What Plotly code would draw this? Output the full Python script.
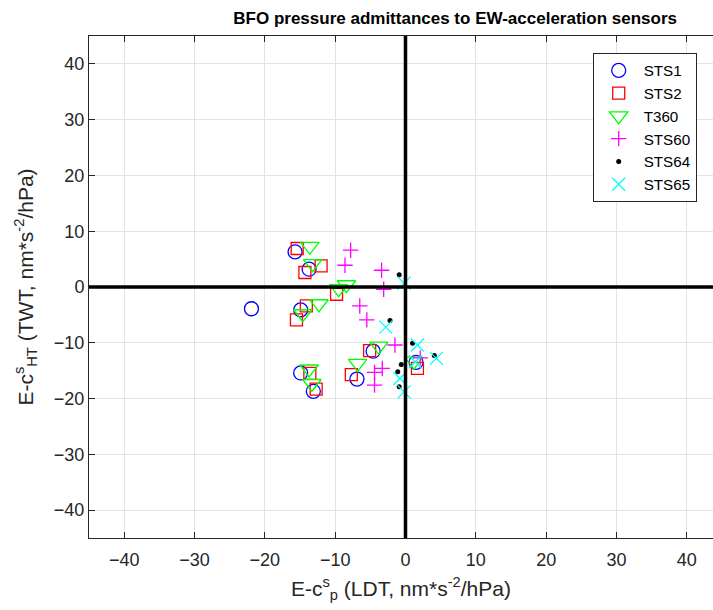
import plotly.graph_objects as go

# ---- data ----
sts1_x = [-15.7, -13.7, -21.9, -14.9, -4.6, 1.5, -14.9, -6.9, -13.1]
sts1_y = [6.3, 3.2, -3.9, -4.1, -11.5, -13.5, -15.4, -16.5, -18.7]

sts2_x = [-15.4, -12.0, -14.3, -9.8, -14.1, -15.5, -5.1, 1.7, -13.6, -7.7, -12.7]
sts2_y = [6.9, 3.8, 2.6, -1.3, -3.4, -5.9, -11.4, -14.6, -15.5, -15.7, -18.3]

t360_x = [-13.6, -13.2, -12.3, -14.6, -9.5, -8.4, -3.8, -6.8, 1.2, -13.7, -13.3]
t360_y = [7.3, 4.2, -3.0, -4.8, -0.3, 0.4, -10.6, -13.7, -13.3, -14.7, -17.3]

sts60_x = [-7.8, -8.6, -3.4, -3.1, -6.5, -5.5, -1.5, 2.1, -3.3, -4.4, -4.4]
sts60_y = [6.6, 3.9, 3.0, -0.4, -3.4, -5.9, -10.4, -12.7, -14.6, -15.3, -17.6]

sts64_x = [-0.9, -2.2, 1.0, 4.1, -0.6, -1.1, -0.9]
sts64_y = [2.2, -6.0, -10.1, -12.3, -13.9, -15.2, -17.9]

sts65_x = [-0.2, -2.8, 1.7, 4.4, 1.4, -0.8, -0.2]
sts65_y = [0.7, -7.2, -10.4, -12.8, -13.4, -16.4, -18.8]

tick_vals = [-40, -30, -20, -10, 0, 10, 20, 30, 40]

FONT = "Liberation Sans, Arial, Helvetica, sans-serif"
LW = 1.3

fig = go.Figure()

fig.add_trace(go.Scatter(x=sts1_x, y=sts1_y, mode="markers", name="STS1",
                         marker=dict(symbol="circle-open", size=14, color="#0000ff",
                                     line=dict(width=LW, color="#0000ff"))))
fig.add_trace(go.Scatter(x=sts2_x, y=sts2_y, mode="markers", name="STS2",
                         marker=dict(symbol="square-open", size=12, color="#ff0000",
                                     line=dict(width=LW, color="#ff0000"))))
fig.add_trace(go.Scatter(x=t360_x, y=t360_y, mode="markers", name="T360",
                         marker=dict(symbol="triangle-down-open", size=16, color="#00ff00",
                                     line=dict(width=LW, color="#00ff00"))))
fig.add_trace(go.Scatter(x=sts60_x, y=sts60_y, mode="markers", name="STS60",
                         marker=dict(symbol="cross-thin-open", size=11, color="#ff00ff",
                                     line=dict(width=LW, color="#ff00ff"))))
fig.add_trace(go.Scatter(x=sts64_x, y=sts64_y, mode="markers", name="STS64",
                         marker=dict(symbol="circle", size=5, color="#000000",
                                     line=dict(width=0))))
fig.add_trace(go.Scatter(x=sts65_x, y=sts65_y, mode="markers", name="STS65",
                         marker=dict(symbol="x-thin-open", size=13, color="#00ffff",
                                     line=dict(width=LW, color="#00ffff"))))

# thick zero reference lines, drawn above the markers
fig.add_shape(type="line", xref="x", yref="paper", x0=0, x1=0, y0=0, y1=1,
              line=dict(color="black", width=3.5), layer="above")
fig.add_shape(type="line", xref="paper", yref="y", x0=0, x1=1, y0=0, y1=0,
              line=dict(color="black", width=3.5), layer="above")

W, H = 713, 610
L, R, T, B = 89, 0, 36, 72
px_per_unit = 7.033
plot_w = W - L - R
x_min = -45
x_max = x_min + plot_w / px_per_unit

axis_common = dict(
    showgrid=True, gridcolor="#e3e3e3", gridwidth=1,
    zeroline=False,
    showline=True, linecolor="#262626", linewidth=1,
    ticks="inside", ticklen=6, tickwidth=1, tickcolor="#262626",
    tickvals=tick_vals,
    tickfont=dict(family=FONT, size=18, color="#262626"),
)

fig.update_layout(
    width=W, height=H,
    margin=dict(l=L, r=R, t=T, b=B),
    paper_bgcolor="white", plot_bgcolor="white",
    font=dict(family=FONT, color="#262626"),
    title=dict(text="<b>BFO pressure admittances to EW-acceleration sensors</b>",
               x=677 / W, xanchor="right", xref="container",
               y=1 - 18 / H, yanchor="middle", yref="container",
               font=dict(family=FONT, size=17, color="black")),
    xaxis=dict(range=[x_min, x_max], mirror="ticks", ticklabelstandoff=5,
               title=dict(text="E-c<sup>s</sup><sub>p</sub> (LDT, nm*s<sup>-2</sup>/hPa)",
                          font=dict(family=FONT, size=21, color="#262626"), standoff=12),
               **axis_common),
    yaxis=dict(range=[-45, 45], mirror=False,
               title=dict(text="E-c<sup>s</sup><sub>HT</sub> (TWT, nm*s<sup>-2</sup>/hPa)",
                          font=dict(family=FONT, size=21, color="#262626"), standoff=14),
               **axis_common),
    showlegend=True,
    legend=dict(x=(592.7 - L) / plot_w, y=1 - (53 - T) / (H - T - B),
                xanchor="left", yanchor="top",
                bgcolor="white", bordercolor="#262626", borderwidth=1,
                font=dict(family=FONT, size=15.2, color="black"),
                itemwidth=40, tracegroupgap=0),
)

fig.write_html("out.html")
